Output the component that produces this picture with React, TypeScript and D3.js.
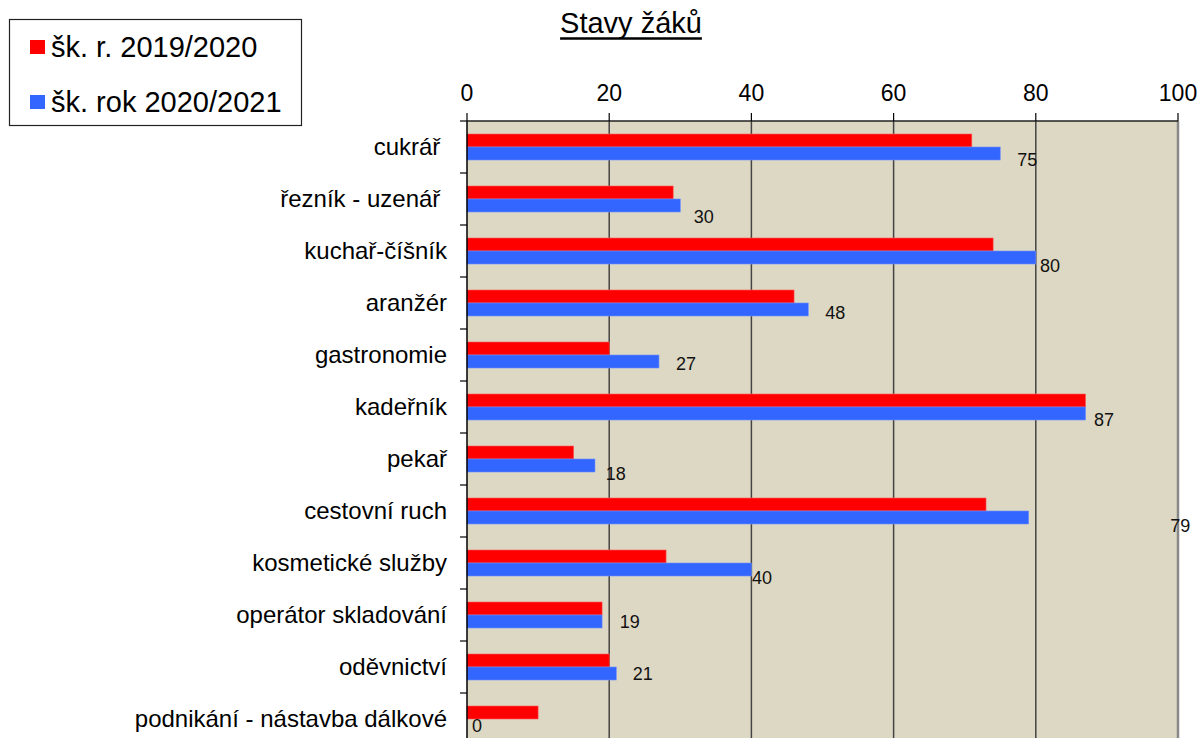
import React, { useRef, useEffect } from 'react';
import * as d3 from 'd3';

const categories = [
    'cukrář ',
    'řezník - uzenář ',
    'kuchař-číšník',
    'aranžér',
    'gastronomie',
    'kadeřník',
    'pekař',
    'cestovní ruch',
    'kosmetické služby',
    'operátor skladování',
    'oděvnictví',
    'podnikání - nástavba dálkové',
];

const seriesNames = ['šk. r. 2019/2020', 'šk. rok 2020/2021'];

const values2019 = [71, 29, 74, 46, 20, 87, 15, 73, 28, 19, 20, 10];
const values2020 = [75, 30, 80, 48, 27, 87, 18, 79, 40, 19, 21, 0];

const xTicks = [0, 20, 40, 60, 80, 100];

// where the data labels sit relative to the bar end (value units / px)
const labelNudgeX = [2.4, 1.9, 0.6, 2.4, 2.4, 1.2, 1.5, 19.9, 0.1, 2.5, 2.3, 0.7];
const labelNudgeY = [6.5, 11, 8.5, 3.5, 2.5, 6.5, 8.5, 8.5, 8.5, 0.5, 0, 0];

const colors = ['#FF0000', '#3366FF'];

export default function App() {
    const svgRef = useRef<SVGSVGElement | null>(null);

    useEffect(() => {
        const width = 1200;
        const height = 738;
        const plot = { left: 467, right: 1178, top: 121, step: 52 };
        const font = '"Liberation Sans", Arial, sans-serif';

        d3.select(svgRef.current).selectAll('*').remove();

        const svg = d3
            .select(svgRef.current)
            .attr('width', width)
            .attr('height', height)
            .style('font-family', font);

        const x = d3.scaleLinear().domain([0, 100]).range([plot.left, plot.right]);

        const y = d3
            .scaleBand()
            .domain(categories)
            .range([plot.top, plot.top + plot.step * categories.length])
            .padding(0);

        const ySub = d3
            .scaleBand()
            .domain(seriesNames)
            .range([0, y.bandwidth()])
            .paddingInner(0)
            .paddingOuter(1);

        // plot background
        svg.append('rect')
            .attr('x', plot.left)
            .attr('y', plot.top)
            .attr('width', plot.right - plot.left)
            .attr('height', height - plot.top + 20)
            .attr('fill', '#DDD8C3');

        // vertical grid lines
        xTicks.slice(1, -1).forEach((t) => {
            svg.append('line')
                .attr('x1', x(t))
                .attr('x2', x(t))
                .attr('y1', plot.top)
                .attr('y2', height)
                .attr('stroke', '#444')
                .attr('stroke-width', 1.5);
        });

        // right border
        svg.append('line')
            .attr('x1', x(100))
            .attr('x2', x(100))
            .attr('y1', plot.top)
            .attr('y2', height)
            .attr('stroke', '#888')
            .attr('stroke-width', 2.5);

        // bars
        const series = [values2019, values2020];
        categories.forEach((c, i) => {
            series.forEach((vals, s) => {
                const v = vals[i];
                if (v <= 0) return;
                svg.append('rect')
                    .attr('x', x(0))
                    .attr('y', y(c)! + ySub(seriesNames[s])!)
                    .attr('width', x(v) - x(0))
                    .attr('height', ySub.bandwidth())
                    .attr('fill', colors[s])
                    .attr('stroke', s === 0 ? '#ff5a5a' : '#6f8fff')
                    .attr('stroke-width', 0.6);
            });
        });

        // data labels for the second series
        categories.forEach((c, i) => {
            const cy = y(c)! + ySub(seriesNames[1])! + ySub.bandwidth() / 2 + labelNudgeY[i];
            svg.append('text')
                .attr('x', x(values2020[i] + labelNudgeX[i]))
                .attr('y', cy)
                .attr('dy', '0.35em')
                .attr('font-size', 18)
                .attr('fill', '#111')
                .text(values2020[i]);
        });

        // left axis
        svg.append('line')
            .attr('x1', plot.left)
            .attr('x2', plot.left)
            .attr('y1', plot.top)
            .attr('y2', height)
            .attr('stroke', '#000')
            .attr('stroke-width', 1.5);

        categories.forEach((c) => {
            svg.append('line')
                .attr('x1', plot.left - 7)
                .attr('x2', plot.left)
                .attr('y1', y(c)!)
                .attr('y2', y(c)!)
                .attr('stroke', '#000')
                .attr('stroke-width', 1.2);

            svg.append('text')
                .attr('x', 447)
                .attr('y', y(c)! + y.bandwidth() / 2)
                .attr('dy', '0.35em')
                .attr('text-anchor', 'end')
                .attr('font-size', 24)
                .attr('fill', '#000')
                .style('white-space', 'pre')
                .text(c);
        });

        // top axis
        svg.append('line')
            .attr('x1', plot.left)
            .attr('x2', plot.right)
            .attr('y1', plot.top)
            .attr('y2', plot.top)
            .attr('stroke', '#222')
            .attr('stroke-width', 1.5);

        xTicks.forEach((t) => {
            svg.append('line')
                .attr('x1', x(t))
                .attr('x2', x(t))
                .attr('y1', plot.top - 8)
                .attr('y2', plot.top)
                .attr('stroke', '#000')
                .attr('stroke-width', 1.2);

            svg.append('text')
                .attr('x', x(t))
                .attr('y', 101)
                .attr('text-anchor', 'middle')
                .attr('font-size', 23)
                .attr('fill', '#000')
                .text(t);
        });

        // title
        const title = svg.append('text')
            .attr('x', 631)
            .attr('y', 33)
            .attr('text-anchor', 'middle')
            .attr('font-size', 29)
            .attr('fill', '#000')
            .text('Stavy žáků');
        const tb = (title.node() as SVGTextElement).getBBox();
        svg.append('line')
            .attr('x1', tb.x)
            .attr('x2', tb.x + tb.width)
            .attr('y1', 38.5)
            .attr('y2', 38.5)
            .attr('stroke', '#000')
            .attr('stroke-width', 2.5);

        // legend
        svg.append('rect')
            .attr('x', 9.5)
            .attr('y', 19.5)
            .attr('width', 292)
            .attr('height', 106)
            .attr('fill', '#fff')
            .attr('stroke', '#222')
            .attr('stroke-width', 1.2);

        seriesNames.forEach((name, s) => {
            const rowY = 47 + s * 55;
            svg.append('rect')
                .attr('x', 30)
                .attr('y', rowY - 7)
                .attr('width', 15)
                .attr('height', 14)
                .attr('fill', colors[s]);
            svg.append('text')
                .attr('x', 51)
                .attr('y', rowY)
                .attr('dy', '0.35em')
                .attr('font-size', 29)
                .attr('fill', '#000')
                .text(name);
        });
    }, []);

    return (
        <svg
            ref={svgRef}
            style={{ position: 'absolute', left: 0, top: 0, display: 'block' }}
        ></svg>
    );
}
